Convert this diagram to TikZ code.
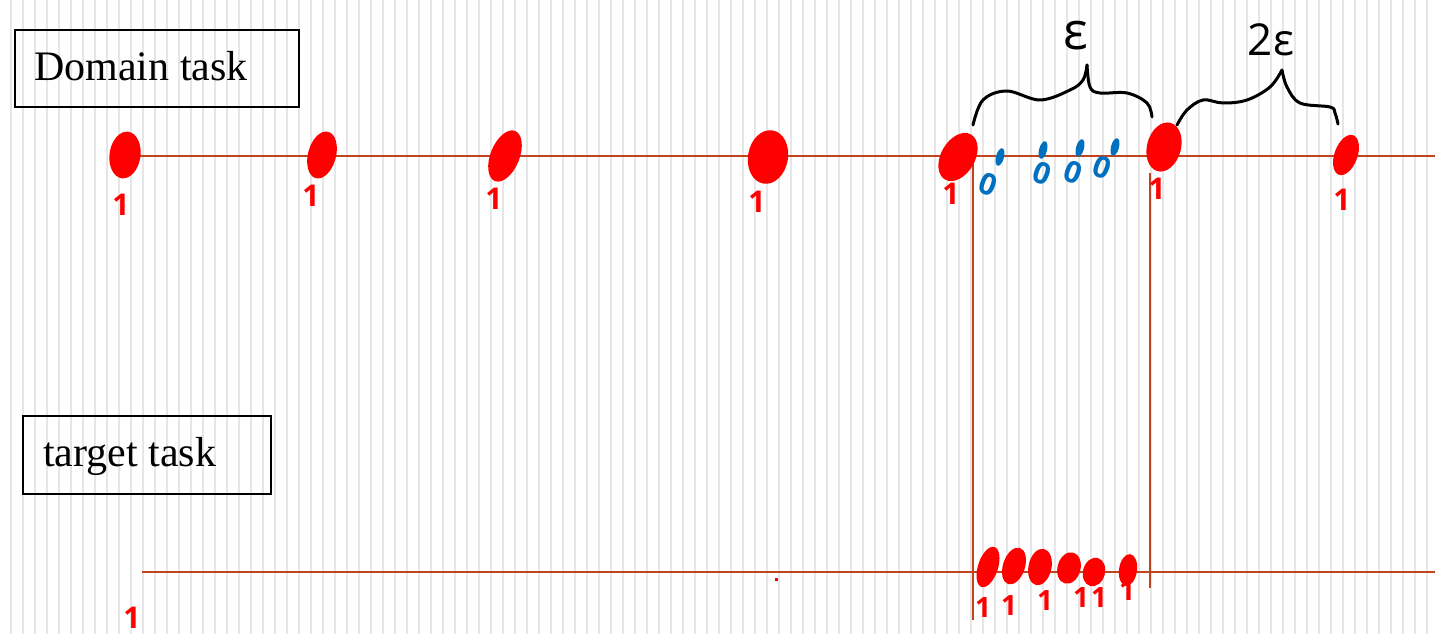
\documentclass[tikz,border=0pt]{standalone}
\usepackage{fontspec}
\setmainfont{Liberation Serif}
\newfontfamily\handfont{Open Sans}
\usetikzlibrary{shapes.geometric}
\definecolor{stripegray}{HTML}{E6E6E6}
\definecolor{axisbrown}{HTML}{C0451E}
\definecolor{hred}{HTML}{FF0000}
\definecolor{hblue}{HTML}{0070C0}
\tikzset{
  stripe/.style={fill=stripegray},
  axis/.style={draw=axisbrown, line width=2.8pt},
  labelbox/.style={draw=black, line width=2.4pt, inner sep=0pt, anchor=north west},
  boxtext/.style={font=\fontsize{42}{48}\selectfont, anchor=base west, inner sep=0pt},
  blob/.style={ellipse, fill=hred, inner sep=0pt},
  bluedot/.style={ellipse, fill=hblue, inner sep=0pt, minimum width=8pt, minimum height=18pt, rotate=-15},
  one/.style={font=\handfont\bfseries\fontsize{30}{30}\selectfont, text=hred, inner sep=0pt},
  smallone/.style={one, font=\handfont\bfseries\fontsize{28}{28}\selectfont},
  zero/.style={font=\handfont\bfseries\fontsize{30}{30}\selectfont, text=hblue, inner sep=0pt, rotate=-20},
  brace/.style={draw=black, line width=3pt, line cap=round, line join=round},
  greek/.style={font=\handfont\fontsize{52}{52}\selectfont, text=black, inner sep=0pt}
}
\begin{document}
\begin{tikzpicture}[x=1pt,y=-1pt]
\useasboundingbox (0,0) rectangle (1435,634);
\fill[white] (0,0) rectangle (1435,634);
% lined paper
\foreach \i in {0,...,118} \fill[stripe] ({11+12*\i-1.25},0) rectangle ++(2.5,634);

% label boxes
\node[labelbox, minimum width=284pt, minimum height=77pt] (dombox) at (14,29) {};
\node[boxtext] (domtext) at (34,81) {Domain task};
\node[labelbox, minimum width=248pt, minimum height=78pt] (tarbox) at (22,415) {};
\node[boxtext] (tartext) at (43,466) {target task};

% axes
\coordinate (topL) at (126,156);
\coordinate (topR) at (1435,156);
\coordinate (botL) at (142,572);
\coordinate (botR) at (1435,572);
\coordinate (v1a) at (973,156);
\coordinate (v1b) at (973,620);
\coordinate (v2a) at (1150,173);
\coordinate (v2b) at (1150,588);
\draw[axis] (topL) -- (topR);
\draw[axis] (botL) -- (botR);
\draw[axis] (v1a) -- (v1b);
\draw[axis] (v2a) -- (v2b);

% red points on domain line
\node[blob, minimum width=31pt, minimum height=47pt, rotate=-8] (d1) at (125,155) {};
\node[blob, minimum width=28pt, minimum height=48pt, rotate=-15] (d2) at (322,155) {};
\node[blob, minimum width=29pt, minimum height=54pt, rotate=-22] (d3) at (505,156) {};
\node[blob, minimum width=40pt, minimum height=54pt, rotate=-10] (d4) at (768,157) {};
\node[blob, minimum width=34pt, minimum height=52pt, rotate=-30] (d5) at (958,157) {};
\node[blob, minimum width=34pt, minimum height=50pt, rotate=-15] (d6) at (1164,147) {};
\node[blob, minimum width=23pt, minimum height=42pt, rotate=-20] (d7) at (1346,155) {};

\node[one] (o1) at (121,205) {1};
\node[one] (o2) at (311,196) {1};
\node[one] (o3) at (494,199) {1};
\node[one] (o4) at (757,202) {1};
\node[one] (o5) at (951,194) {1};
\node[one] (o6) at (1157,189) {1};
\node[one] (o7) at (1342,200) {1};
\node[one] (o8) at (132,618) {1};

% blue points
\node[bluedot] (b1) at (1000,157) {};
\node[bluedot] (b2) at (1043,150) {};
\node[bluedot] (b3) at (1080,148) {};
\node[bluedot] (b4) at (1115,147) {};
\node[zero] (z1) at (988,184) {0};
\node[zero] (z2) at (1042,173) {0};
\node[zero] (z3) at (1073,172) {0};
\node[zero] (z4) at (1102,167) {0};

% red points on target line
\node[blob, minimum width=20pt, minimum height=42pt, rotate=-18] (t1) at (988,567) {};
\node[blob, minimum width=22pt, minimum height=38pt, rotate=-18] (t2) at (1014,566) {};
\node[blob, minimum width=23pt, minimum height=37pt, rotate=-12] (t3) at (1040,567) {};
\node[blob, minimum width=23pt, minimum height=32pt, rotate=-15] (t4) at (1069,568) {};
\node[blob, minimum width=22pt, minimum height=29pt, rotate=-15] (t5) at (1094,572) {};
\node[blob, minimum width=18pt, minimum height=32pt, rotate=-8] (t6) at (1128,570) {};
\node[smallone] (p1) at (983,607) {1};
\node[smallone] (p2) at (1009,605) {1};
\node[smallone] (p3) at (1045,600) {1};
\node[smallone] (p4) at (1081,597) {1};
\node[smallone] (p5) at (1099,597) {1};
\node[smallone] (p6) at (1127,590) {1};
\fill[hred] (775,578) rectangle (778,581);

% braces
\draw[brace] plot[smooth, tension=0.6] coordinates {(973,125) (983,100) (1007,91) (1040,100) (1070,90) (1083,80) (1087,65)};
\draw[brace] plot[smooth, tension=0.6] coordinates {(1087,65) (1090,87) (1100,93) (1127,93) (1147,103) (1152,117)};
\draw[brace] plot[smooth, tension=0.6] coordinates {(1177,125) (1187,110) (1203,100) (1223,103) (1247,100) (1270,87) (1282,70)};
\draw[brace] plot[smooth, tension=0.6] coordinates {(1282,70) (1287,87) (1300,103) (1330,107) (1335,113) (1338,124)};
\node[greek] (eps) at (1076,36) {ε};
\node[greek, font=\handfont\fontsize{44}{44}\selectfont] (twoeps) at (1271,40) {2ε};
\end{tikzpicture}
\end{document}
